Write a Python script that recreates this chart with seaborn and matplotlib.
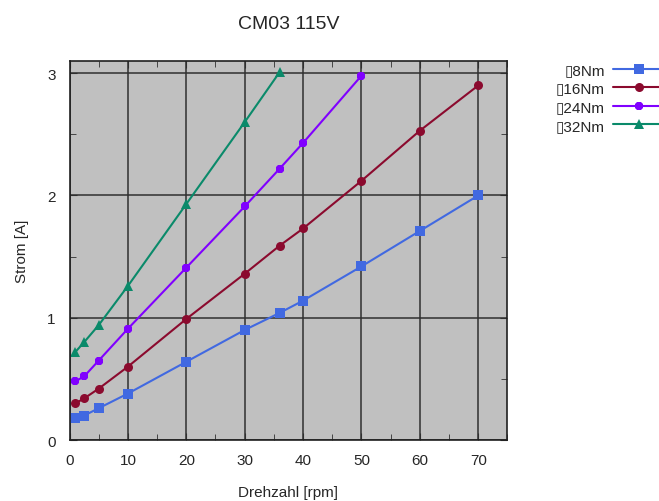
import matplotlib
matplotlib.use("Agg")
import matplotlib.pyplot as plt
from matplotlib.ticker import MultipleLocator
import numpy as np
import pandas as pd
import seaborn as sns

# speed [rpm] per series
rpm_long = [1, 2.5, 5, 10, 20, 30, 36, 40, 50, 60, 70]
rpm_24 = [1, 2.5, 5, 10, 20, 30, 36, 40, 50]
rpm_32 = [1, 2.5, 5, 10, 20, 30, 36]

# current [A]
strom_8 = [0.18, 0.20, 0.26, 0.38, 0.64, 0.90, 1.04, 1.14, 1.42, 1.71, 2.00]
strom_16 = [0.30, 0.34, 0.42, 0.60, 0.99, 1.36, 1.59, 1.73, 2.12, 2.53, 2.90]
strom_24 = [0.48, 0.52, 0.65, 0.91, 1.41, 1.91, 2.22, 2.43, 2.98]
strom_32 = [0.72, 0.80, 0.94, 1.26, 1.93, 2.60, 3.01]

labels = ["\u25af8Nm", "\u25af16Nm", "\u25af24Nm", "\u25af32Nm"]
colors = ["#4169e1", "#8b0a2e", "#8000ff", "#0a8a6a"]
markers = ["s", "o", "8", "^"]

frames = []
for lab, x, y in zip(labels, [rpm_long, rpm_long, rpm_24, rpm_32],
                     [strom_8, strom_16, strom_24, strom_32]):
    frames.append(pd.DataFrame({"rpm": x, "strom": y, "serie": lab}))
df = pd.concat(frames, ignore_index=True)

sns.set_style("ticks")
plt.rcParams["font.family"] = ["Liberation Sans", "DejaVu Sans"]

fig = plt.figure(figsize=(6.59, 5.02), dpi=100)
ax = fig.add_axes([0.1055, 0.1215, 0.6645, 0.755])
ax.set_facecolor("#c0c0c0")

sns.lineplot(data=df, x="rpm", y="strom", hue="serie", style="serie",
             palette=dict(zip(labels, colors)), markers=dict(zip(labels, markers)),
             dashes=False, markersize=6.5, markeredgewidth=0, linewidth=1.5,
             ax=ax, legend=False)

ax.set_xlim(0, 75)
ax.set_ylim(0, 3.1)
ax.xaxis.set_major_locator(MultipleLocator(10))
ax.xaxis.set_minor_locator(MultipleLocator(5))
ax.yaxis.set_major_locator(MultipleLocator(1))
ax.yaxis.set_minor_locator(MultipleLocator(0.5))
ax.grid(True, which="major", color="#303030", linewidth=1.1)
ax.set_axisbelow(True)
ax.tick_params(which="both", direction="in", top=True, right=True,
               labelsize=11, color="#303030")
ax.tick_params(which="major", length=5)
ax.tick_params(which="minor", length=4)
ax.tick_params(axis="x", pad=9)
ax.tick_params(axis="y", pad=10)
for s in ax.spines.values():
    s.set_color("#202020")
    s.set_linewidth(1.2)

ax.set_xlabel("Drehzahl [rpm]", fontsize=11, labelpad=13)
ax.set_ylabel("Strom [A]", fontsize=11, labelpad=13)
ax.set_title("CM03 115V", fontsize=14, pad=24)

handles = [plt.Line2D([], [], color=c, marker=m, markersize=6.5, markeredgewidth=0,
                      linewidth=1.5) for c, m in zip(colors, markers)]
fig.legend(handles, labels, loc="upper left", bbox_to_anchor=(0.823, 0.9),
           frameon=False, markerfirst=False, fontsize=11, handlelength=3.4,
           labelspacing=0.3, handletextpad=0.5)

fig.savefig("out.png", dpi=100)
